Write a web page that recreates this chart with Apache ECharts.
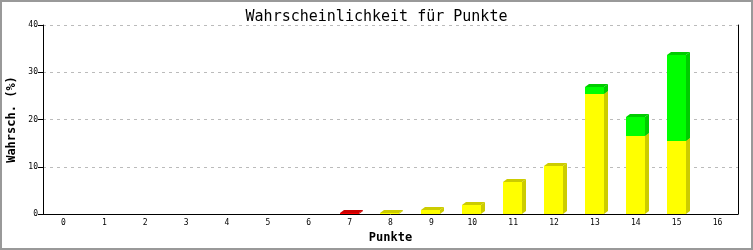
<!DOCTYPE html>
<html>
<head>
<meta charset="utf-8">
<script src="https://cdn.jsdelivr.net/npm/echarts@6/dist/echarts.min.js"></script>
<style>
html,body{margin:0;padding:0;background:#fff;}
#chart{width:753px;height:250px;}
</style>
</head>
<body>
<div id="chart"></div>
<script>
var categories = ['0','1','2','3','4','5','6','7','8','9','10','11','12','13','14','15','16'];
var redValues    = [0,0,0,0,0,0,0,0.12,0,0,0,0,0,0,0,0,0];
var yellowValues = [0,0,0,0,0,0,0,0,0.12,0.8,1.85,6.8,10.2,25.4,16.5,15.45,0];
var greenValues  = [0,0,0,0,0,0,0,0,0,0,0,0,0,1.5,4.0,18.2,0];
var yTicks = [0,10,20,30,40];
var titleText = 'Wahrscheinlichkeit für Punkte';
var xName = 'Punkte';
var yName = 'Wahrsch. (%)';

var mono = 'DejaVu Sans Mono';

function stackData(values, bases) {
  return values.map(function (v, i) { return [i, bases ? bases[i] : 0, v]; });
}
var yellowBase = redValues.slice();
var greenBase = redValues.map(function (r, i) { return r + yellowValues[i]; });

function makeRender(front, dark) {
  return function (params, api) {
    var i = api.value(0), base = api.value(1), v = api.value(2);
    if (!v) return;
    var p0 = api.coord([i, base]), p1 = api.coord([i, base + v]);
    var w = 19, dx = 4, dy = 3;
    var x0 = Math.round(p0[0]) - 10, x1 = x0 + w;
    var yb = Math.round(p0[1]), yt = Math.round(p1[1]);
    return {
      type: 'group',
      children: [
        { type: 'polygon', shape: { points: [[x1, yb], [x1 + dx, yb - dy], [x1 + dx, yt - dy], [x1, yt]] }, style: { fill: dark } },
        { type: 'polygon', shape: { points: [[x0, yt], [x0 + dx, yt - dy], [x1 + dx, yt - dy], [x1, yt]] }, style: { fill: dark } },
        { type: 'rect', shape: { x: x0, y: yt, width: w, height: yb - yt }, style: { fill: front } }
      ]
    };
  };
}

var chart = echarts.init(document.getElementById('chart'));
chart.setOption({
  animation: false,
  backgroundColor: '#fff',
  title: {
    text: titleText, left: 'center', top: 5,
    textStyle: { fontFamily: mono, fontSize: 15, fontWeight: 'normal', color: '#000' }
  },
  graphic: [{
    type: 'rect', silent: true, z: 100,
    shape: { x: 1, y: 1, width: 751, height: 248 },
    style: { fill: 'none', stroke: '#999', lineWidth: 2 }
  }],
  grid: { left: 43, right: 15, top: 25, bottom: 36, outerBoundsMode: 'none', containLabel: false },
  xAxis: {
    type: 'category', data: categories,
    name: xName, nameLocation: 'middle', nameGap: 18,
    nameTextStyle: { fontFamily: mono, fontSize: 12, fontWeight: 'bold', color: '#000' },
    axisLine: { lineStyle: { color: '#000', width: 1 } },
    axisTick: { show: false },
    axisLabel: { fontFamily: mono, fontSize: 8, color: '#000', margin: 5, interval: 0 },
    splitLine: { show: false }
  },
  yAxis: [{
    type: 'value', min: 0, max: 40, interval: 10,
    name: yName, nameLocation: 'middle', nameGap: 24, nameRotate: 90,
    nameTextStyle: { fontFamily: mono, fontSize: 12, fontWeight: 'bold', color: '#000' },
    axisLine: { show: true, lineStyle: { color: '#000', width: 1 } },
    axisTick: { show: true, length: 5, lineStyle: { color: '#000' } },
    axisLabel: { fontFamily: mono, fontSize: 8, color: '#000', margin: 5,
      formatter: function (v) { return yTicks.indexOf(v) >= 0 ? String(v) : ''; } },
    splitLine: { show: true, lineStyle: { color: '#bbb', type: [3, 4] } }
  }, {
    type: 'value', min: 0, max: 40, interval: 10, position: 'right',
    axisLine: { show: true, lineStyle: { color: '#000', width: 1 } },
    axisTick: { show: false }, axisLabel: { show: false }, splitLine: { show: false }
  }],
  series: [
    { type: 'custom', name: 'red', renderItem: makeRender('#ff0000', '#cc0000'), data: stackData(redValues), encode: { x: 0, y: 2 } },
    { type: 'custom', name: 'yellow', renderItem: makeRender('#ffff00', '#cccc00'), data: stackData(yellowValues, yellowBase), encode: { x: 0, y: 2 } },
    { type: 'custom', name: 'green', renderItem: makeRender('#00ff00', '#00cc00'), data: stackData(greenValues, greenBase), encode: { x: 0, y: 2 } }
  ]
});
</script>
</body>
</html>
